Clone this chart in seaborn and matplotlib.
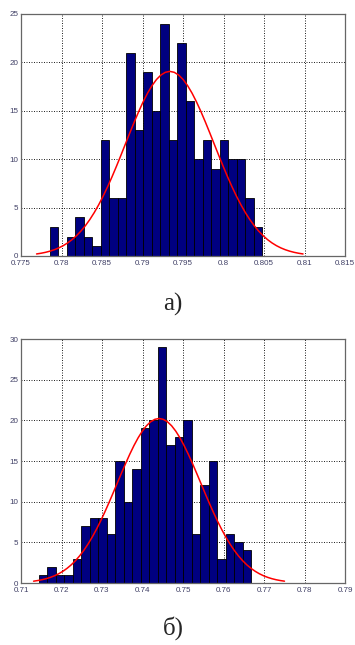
import numpy as np
import pandas as pd
import matplotlib
matplotlib.use("Agg")
import matplotlib.pyplot as plt
import seaborn as sns

# ---- data ----
counts_a = [3, 0, 2, 4, 2, 1, 12, 6, 6, 21, 13, 19, 15, 24, 12, 22, 16, 10, 12, 9, 12, 10, 10, 6, 3]
range_a = (0.77858, 0.80479)
xticks_a = [0.775, 0.78, 0.785, 0.79, 0.795, 0.8, 0.805, 0.81, 0.815]
xlabels_a = ["0.775", "0.78", "0.785", "0.79", "0.795", "0.8", "0.805", "0.81", "0.815"]
yticks_a = [0, 5, 10, 15, 20, 25]

counts_b = [1, 2, 1, 1, 3, 7, 8, 8, 6, 15, 10, 14, 19, 20, 29, 17, 18, 20, 6, 12, 15, 3, 6, 5, 4]
range_b = (0.71444, 0.76679)
xticks_b = [0.71, 0.72, 0.73, 0.74, 0.75, 0.76, 0.77, 0.78, 0.79]
xlabels_b = ["0.71", "0.72", "0.73", "0.74", "0.75", "0.76", "0.77", "0.78", "0.79"]
yticks_b = [0, 5, 10, 15, 20, 25, 30]

panel_labels = ["а)", "б)"]

sns.set_style("white")
plt.rcParams["font.family"] = ["Liberation Sans", "DejaVu Sans"]
plt.rcParams["axes.axisbelow"] = True

W, H = 355, 645
fig = plt.figure(figsize=(W / 100, H / 100), dpi=100)

def ax_rect(l, t, r, b):
    return [l / W, 1 - b / H, (r - l) / W, (b - t) / H]

ax_a = fig.add_axes(ax_rect(21, 14, 345, 256))
ax_b = fig.add_axes(ax_rect(21, 339, 345, 583))

tick_color = "#404066"

def draw(ax, counts, rng, xticks, xlabels, yticks):
    counts = np.asarray(counts, dtype=float)
    n = len(counts)
    edges = np.linspace(rng[0], rng[1], n + 1)
    centers = (edges[:-1] + edges[1:]) / 2
    df = pd.DataFrame({"x": centers, "w": counts})
    ax.set_axisbelow(True)
    sns.histplot(data=df, x="x", weights="w", bins=n, binrange=rng, ax=ax,
                 color="#000080", edgecolor="black", linewidth=0.6, alpha=1.0,
                 zorder=2)
    # normal fit (histfit-style) from the histogram itself
    total = counts.sum()
    mu = (centers * counts).sum() / total
    sd = np.sqrt(((centers - mu) ** 2 * counts).sum() / (total - 1))
    bw = edges[1] - edges[0]
    xs = np.linspace(mu - 3 * sd, mu + 3 * sd, 61)
    ys = total * bw * np.exp(-0.5 * ((xs - mu) / sd) ** 2) / (sd * np.sqrt(2 * np.pi))
    sns.lineplot(x=xs, y=ys, ax=ax, color="red", linewidth=1.1, zorder=3)

    ax.set_xlim(xticks[0], xticks[-1])
    ax.set_ylim(yticks[0], yticks[-1])
    ax.set_xticks(xticks)
    ax.set_xticklabels(xlabels)
    ax.set_yticks(yticks)
    ax.set_xlabel("")
    ax.set_ylabel("")
    ax.grid(True, color="black", linestyle=(0, (1.2, 1.8)), linewidth=0.6, zorder=0.5)
    ax.tick_params(direction="in", length=3, width=0.6, labelsize=5.8,
                   labelcolor=tick_color, color="black")
    ax.tick_params(axis="x", pad=3.2)
    ax.tick_params(axis="y", pad=2.0)
    for s in ax.spines.values():
        s.set_color("#666666")
        s.set_linewidth(0.9)
        s.set_zorder(4)

draw(ax_a, counts_a, range_a, xticks_a, xlabels_a, yticks_a)
draw(ax_b, counts_b, range_b, xticks_b, xlabels_b, yticks_b)

fig.text(173 / W, 1 - 304 / H, panel_labels[0], ha="center", va="center",
         fontsize=18, family=["Liberation Serif"])
fig.text(173 / W, 1 - 628 / H, panel_labels[1], ha="center", va="center",
         fontsize=18, family=["Liberation Serif"])

fig.savefig("out.png", dpi=100, facecolor="white")
